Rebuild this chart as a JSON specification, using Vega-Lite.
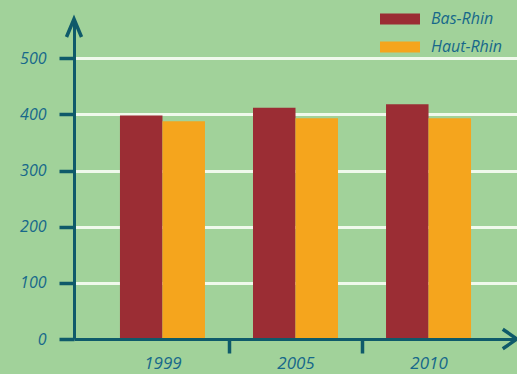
{
  "$schema": "https://vega.github.io/schema/vega-lite/v6.json",
  "width": 443,
  "height": 320,
  "autosize": {"type": "none"},
  "padding": {"left": 74, "top": 19, "right": 0, "bottom": 35},
  "background": "#a1d29a",
  "config": {"view": {"stroke": null}, "font": "Open Sans"},
  "layer": [
    {
      "data": {"values": [
        {"year": "1999", "department": "Bas-Rhin", "value": 398},
        {"year": "1999", "department": "Haut-Rhin", "value": 388},
        {"year": "2005", "department": "Bas-Rhin", "value": 412},
        {"year": "2005", "department": "Haut-Rhin", "value": 393},
        {"year": "2010", "department": "Bas-Rhin", "value": 418},
        {"year": "2010", "department": "Haut-Rhin", "value": 393}
      ]},
      "mark": {"type": "bar"},
      "encoding": {
        "x": {
          "field": "year", "type": "nominal",
          "scale": {"paddingInner": 0, "paddingOuter": 0.165},
          "axis": {
            "title": null, "labelAngle": 0, "zindex": 1,
            "domainColor": "#0f5a6a", "domainWidth": 3,
            "tickColor": "#0f5a6a", "tickWidth": 3.5, "tickSize": 14, "tickOffset": 66.5,
            "tickOpacity": {"condition": {"test": "datum.value === '2010'", "value": 0}, "value": 1},
            "labelOffset": -66.5,
            "labelFontSize": 17, "labelFontStyle": "italic", "labelColor": "#17688a", "labelPadding": 2
          }
        },
        "xOffset": {
          "field": "department", "type": "nominal",
          "sort": ["Bas-Rhin", "Haut-Rhin"],
          "scale": {"paddingInner": 0, "paddingOuter": 0.565}
        },
        "y": {
          "field": "value", "type": "quantitative",
          "scale": {"domain": [0, 570], "nice": false},
          "axis": {
            "title": null, "values": [0, 100, 200, 300, 400, 500],
            "domainColor": "#0f5a6a", "domainWidth": 3,
            "tickColor": "#0f5a6a", "tickWidth": 3.5, "tickSize": 15,
            "grid": true, "gridColor": "#f4fbf0", "gridWidth": 3, "gridOpacity": 0.95,
            "labelFontSize": 16, "labelFontStyle": "italic", "labelColor": "#17688a", "labelPadding": 13
          }
        },
        "color": {
          "field": "department", "type": "nominal",
          "scale": {"domain": ["Bas-Rhin", "Haut-Rhin"], "range": ["#9b2d34", "#f5a51d"]},
          "legend": {
            "title": null, "orient": "none", "legendX": 306, "legendY": -20, "padding": 0,
            "symbolType": "M-1,-0.28H1V0.28H-1Z", "symbolSize": 1600, "symbolStrokeWidth": 0, "symbolOpacity": 1,
            "labelFontSize": 16, "labelFontStyle": "italic", "labelColor": "#17688a", "labelOffset": 11,
            "rowPadding": -17
          }
        }
      }
    },
    {
      "data": {"values": [
        {"px": 0, "py": 570, "dir": "up"},
        {"px": 1, "py": 0, "dir": "right"}
      ]},
      "mark": {"type": "point", "filled": false, "strokeWidth": 3.5, "color": "#0f5a6a", "opacity": 1, "size": 225},
      "encoding": {
        "x": {"field": "px", "type": "quantitative", "scale": {"domain": [0, 1], "nice": false}, "axis": null},
        "y": {"field": "py", "type": "quantitative"},
        "shape": {
          "field": "dir", "type": "nominal",
          "scale": {"domain": ["up", "right"], "range": ["M-1,2.4L0,0L1,2.4", "M-1.9,-1.3L0,0L-1.9,1.3"]},
          "legend": null
        }
      }
    }
  ],
  "resolve": {"scale": {"x": "independent"}, "axis": {"x": "independent"}}
}
